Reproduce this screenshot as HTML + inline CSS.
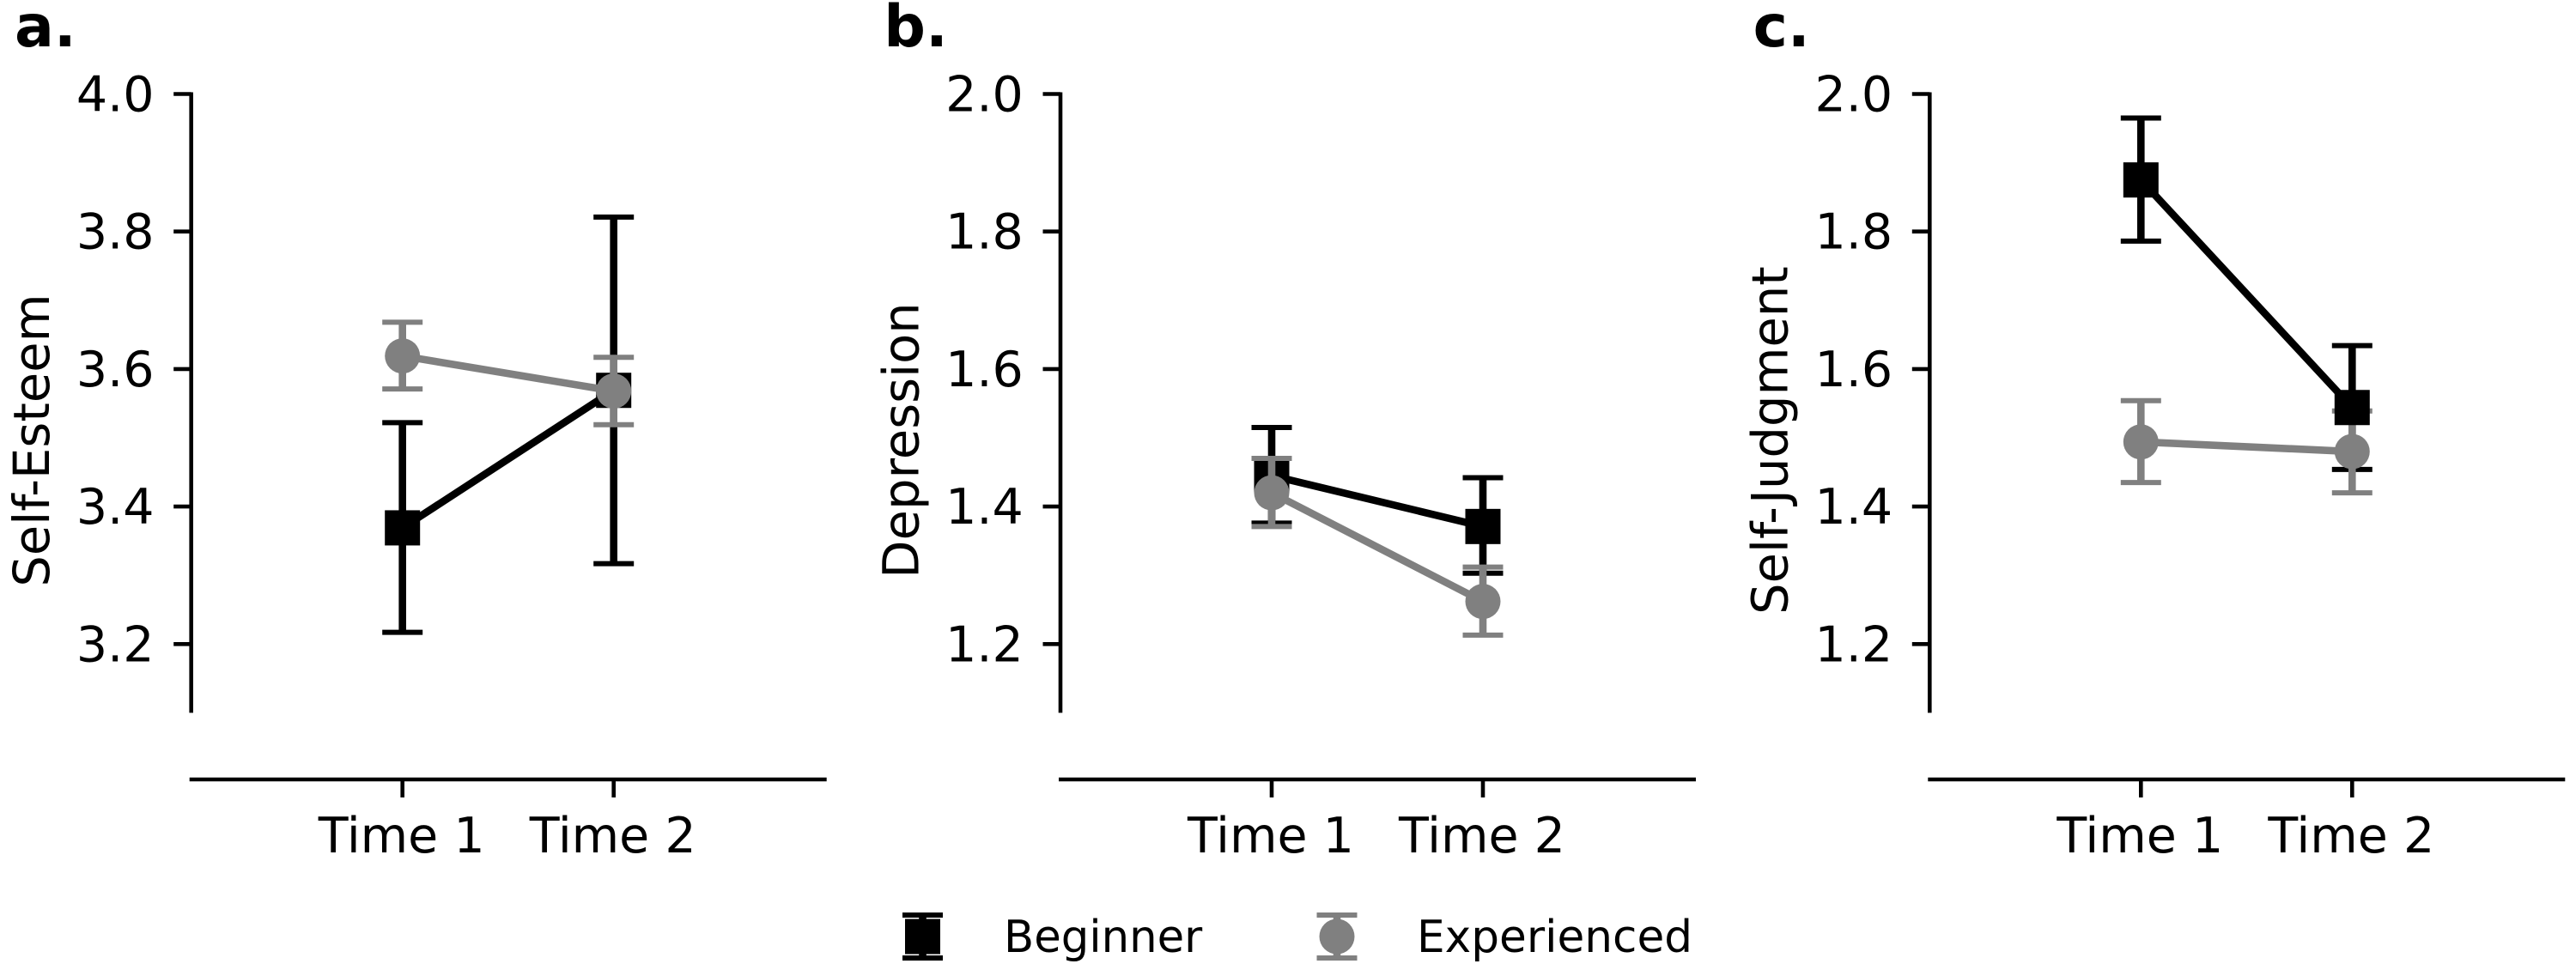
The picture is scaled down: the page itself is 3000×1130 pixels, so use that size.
<!DOCTYPE html>
<html lang="en">
<head>
<meta charset="utf-8">
<title>Self-Esteem, Depression and Self-Judgment by Experience</title>
<style>
  html, body { margin: 0; padding: 0; background: #ffffff; }
  body { width: 3000px; height: 1130px; overflow: hidden; }
  svg { display: block; }
  text { font-family: "DejaVu Sans", "Liberation Sans", sans-serif; fill: #000000; }
</style>
</head>
<body>
<svg id="chart" xmlns="http://www.w3.org/2000/svg" width="3000" height="1130" viewBox="0 0 3000 1130">
  <rect x="0" y="0" width="3000" height="1130" fill="#ffffff"></rect>
</svg>
<script>
// Categories and tick labels
const timeLabels = ['Time 1', 'Time 2'];
const yTicksEsteem = [4.0, 3.8, 3.6, 3.4, 3.2];
const yTicksDepression = [2.0, 1.8, 1.6, 1.4, 1.2];
const yTicksJudgment = [2.0, 1.8, 1.6, 1.4, 1.2];
const yDomainEsteem = [3.1, 4.0];
const yDomainDepression = [1.1, 2.0];
const yDomainJudgment = [1.1, 2.0];

// Panel a: Self-Esteem
const esteemBeginnerMean = [3.369, 3.569];
const esteemBeginnerLow = [3.217, 3.317];
const esteemBeginnerHigh = [3.522, 3.821];
const esteemExperiencedMean = [3.619, 3.568];
const esteemExperiencedLow = [3.571, 3.519];
const esteemExperiencedHigh = [3.668, 3.617];

// Panel b: Depression
const depressionBeginnerMean = [1.445, 1.371];
const depressionBeginnerLow = [1.376, 1.303];
const depressionBeginnerHigh = [1.515, 1.442];
const depressionExperiencedMean = [1.420, 1.262];
const depressionExperiencedLow = [1.371, 1.213];
const depressionExperiencedHigh = [1.470, 1.312];

// Panel c: Self-Judgment
const judgmentBeginnerMean = [1.875, 1.544];
const judgmentBeginnerLow = [1.786, 1.454];
const judgmentBeginnerHigh = [1.965, 1.634];
const judgmentExperiencedMean = [1.494, 1.480];
const judgmentExperiencedLow = [1.435, 1.420];
const judgmentExperiencedHigh = [1.554, 1.539];

const svgNS = 'http://www.w3.org/2000/svg';
const root = document.getElementById('chart');
const BLACK = '#000000';
const GREY = '#808080';

const plotTop = 109.5;
const plotBottom = 830.4;
const plotLeft = 222.7;
const plotRight = 960.7;
const xMin = -1;
const xMax = 2;

function make(tag, parent) {
  const el = document.createElementNS(svgNS, tag);
  parent.appendChild(el);
  return el;
}
function drawLine(parent, x1, y1, x2, y2, color, width, cap) {
  const l = make('line', parent);
  l.setAttribute('x1', x1);
  l.setAttribute('y1', y1);
  l.setAttribute('x2', x2);
  l.setAttribute('y2', y2);
  l.setAttribute('stroke', color);
  l.setAttribute('stroke-width', width);
  l.setAttribute('stroke-linecap', cap || 'butt');
  return l;
}
function drawText(parent, str, x, y, size, anchor, weight) {
  const t = make('text', parent);
  t.setAttribute('x', x);
  t.setAttribute('y', y);
  t.setAttribute('font-size', size);
  t.setAttribute('text-anchor', anchor);
  if (weight) t.setAttribute('font-weight', weight);
  t.textContent = str;
  return t;
}
function xScale(i, dx) {
  return dx + plotLeft + (i - xMin) / (xMax - xMin) * (plotRight - plotLeft);
}
function makeYScale(domain) {
  return function (v) {
    return plotBottom - (v - domain[0]) / (domain[1] - domain[0]) * (plotBottom - plotTop);
  };
}
function drawSquare(parent, cx, cy, color) {
  const r = make('rect', parent);
  r.setAttribute('x', cx - 20.5);
  r.setAttribute('y', cy - 20.5);
  r.setAttribute('width', 41);
  r.setAttribute('height', 41);
  r.setAttribute('fill', color);
  return r;
}
function drawCircle(parent, cx, cy, color) {
  const c = make('circle', parent);
  c.setAttribute('cx', cx);
  c.setAttribute('cy', cy);
  c.setAttribute('r', 20.5);
  c.setAttribute('fill', color);
  return c;
}
function drawSeriesBody(g, key, color, mean, low, high, dx, y) {
  for (let i = 0; i < mean.length; i++) {
    const x = xScale(i, dx);
    const bar = drawLine(g, x, y(low[i]), x, y(high[i]), color, 8.6);
    
    
    const capLow = drawLine(g, x - 23.5, y(low[i]), x + 23.5, y(low[i]), color, 6);
    
    
    const capHigh = drawLine(g, x - 23.5, y(high[i]), x + 23.5, y(high[i]), color, 6);
    
    
  }
  const seg = drawLine(g, xScale(0, dx), y(mean[0]), xScale(1, dx), y(mean[1]), color, 8.6);
  
  
}
function drawMarkers(g, key, shape, color, mean, dx, y) {
  for (let i = 0; i < mean.length; i++) {
    const m = shape === 'square'
      ? drawSquare(g, xScale(i, dx), y(mean[i]), color)
      : drawCircle(g, xScale(i, dx), y(mean[i]), color);
    
    
  }
}

function drawPanel(letter, title, dx, domain, ticks, tickSeries, beginnerOnTop) {
  const y = makeYScale(domain);
  const g = make('g', root);
  
  

  const panelLabel = drawText(g, letter + '.', 17 + dx, 54, 68, 'start', 'bold');
  
  

  const ySpine = drawLine(g, plotLeft + dx, plotTop - 2, plotLeft + dx, plotBottom, BLACK, 4.6);
  
  

  ticks.forEach(function (v) {
    const tick = drawLine(g, plotLeft + dx - 20.5, y(v), plotLeft + dx, y(v), BLACK, 4.6);
    
    
    const label = drawText(g, v.toFixed(1), 179.5 + dx, y(v) + 20, 57, 'end');
    
    
  });

  const yTitle = drawText(g, title, 0, 0, 57.5, 'middle');
  yTitle.setAttribute('transform', 'translate(' + (57 + dx) + ' 513) rotate(-90)');
  
  

  const xSpine = drawLine(g, plotLeft + dx - 2, 908, plotRight + dx + 2, 908, BLACK, 4.6);
  
  

  timeLabels.forEach(function (name, i) {
    const tick = drawLine(g, xScale(i, dx), 908, xScale(i, dx), 929, BLACK, 4.6);
    
    
    const label = drawText(g, name, xScale(i, dx) - 1, 993, 57, 'middle');
    
    
  });

  drawSeriesBody(g, 'beginner', BLACK, tickSeries.bMean, tickSeries.bLow, tickSeries.bHigh, dx, y);
  if (!beginnerOnTop) drawMarkers(g, 'beginner', 'square', BLACK, tickSeries.bMean, dx, y);
  drawSeriesBody(g, 'experienced', GREY, tickSeries.eMean, tickSeries.eLow, tickSeries.eHigh, dx, y);
  drawMarkers(g, 'experienced', 'circle', GREY, tickSeries.eMean, dx, y);
  if (beginnerOnTop) drawMarkers(g, 'beginner', 'square', BLACK, tickSeries.bMean, dx, y);
}

drawPanel('a', 'Self-Esteem', 0, yDomainEsteem, yTicksEsteem, {
  bMean: esteemBeginnerMean, bLow: esteemBeginnerLow, bHigh: esteemBeginnerHigh,
  eMean: esteemExperiencedMean, eLow: esteemExperiencedLow, eHigh: esteemExperiencedHigh
}, false);
drawPanel('b', 'Depression', 1012.3, yDomainDepression, yTicksDepression, {
  bMean: depressionBeginnerMean, bLow: depressionBeginnerLow, bHigh: depressionBeginnerHigh,
  eMean: depressionExperiencedMean, eLow: depressionExperiencedLow, eHigh: depressionExperiencedHigh
}, false);
drawPanel('c', 'Self-Judgment', 2024.6, yDomainJudgment, yTicksJudgment, {
  bMean: judgmentBeginnerMean, bLow: judgmentBeginnerLow, bHigh: judgmentBeginnerHigh,
  eMean: judgmentExperiencedMean, eLow: judgmentExperiencedLow, eHigh: judgmentExperiencedHigh
}, true);

// Legend
const legend = make('g', root);



function drawLegendKey(parent, cx, color) {
  drawLine(parent, cx, 1066, cx, 1116, color, 8.6);
  drawLine(parent, cx - 23.5, 1066, cx + 23.5, 1066, color, 6);
  drawLine(parent, cx - 23.5, 1116, cx + 23.5, 1116, color, 6);
}

const entryBeginner = make('g', legend);


drawLegendKey(entryBeginner, 1074.5, BLACK);
drawSquare(entryBeginner, 1074.5, 1091, BLACK);
drawText(entryBeginner, 'Beginner', 1169, 1109, 51.3, 'start');

const entryExperienced = make('g', legend);


drawLegendKey(entryExperienced, 1557, GREY);
drawCircle(entryExperienced, 1557, 1091, GREY);
drawText(entryExperienced, 'Experienced', 1650, 1109, 51.7, 'start');
</script>
</body>
</html>
